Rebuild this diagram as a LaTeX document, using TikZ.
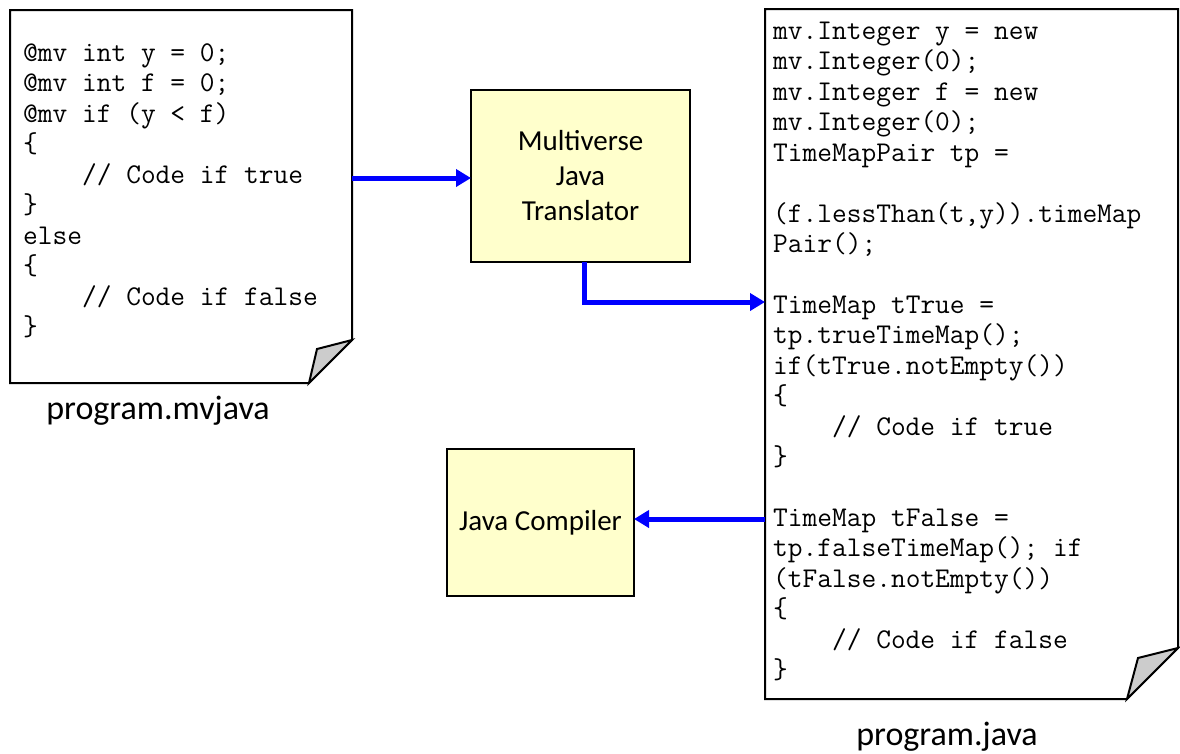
\documentclass[tikz,border=0pt]{standalone}
\usepackage{fontspec}
\setmainfont{Carlito}
\usetikzlibrary{arrows.meta}
\definecolor{boxyellow}{HTML}{FFFFCC}
\definecolor{flapgray}{HTML}{CCCCCC}
\definecolor{flowblue}{HTML}{0000FF}
\begin{document}
\begin{tikzpicture}[x=1pt,y=-1pt,
  doc/.style={draw=black,line width=2pt,fill=white,line join=miter},
  flap/.style={draw=black,line width=2pt,fill=flapgray,line join=miter},
  procbox/.style={draw=black,line width=2pt,fill=boxyellow,inner sep=0pt,outer sep=0pt,
    align=center,font=\fontsize{29}{35}\selectfont},
  code/.style={anchor=base west,inner sep=0pt,font=\ttfamily\fontsize{28.6}{30}\selectfont},
  filelabel/.style={anchor=base,inner sep=0pt,font=\fontsize{34}{40}\selectfont},
  flow/.style={draw=flowblue,line width=5pt,line join=miter,-{Triangle[length=15pt,width=17pt]}}]
\useasboundingbox (0,0) rectangle (1180,753);

% left document
\draw[doc] (10,10) -- (352,10) -- (352,340) -- (309,383) -- (10,383) -- cycle;
\draw[flap] (352,340) -- (317,349) -- (309,383) -- cycle;
\node[code] (L1) at (23,61) {@mv int y = 0;};
\node[code] (L2) at (23,91.5) {@mv int f = 0;};
\node[code] (L3) at (23,122) {@mv if (y < f)};
\node[code] (L4) at (23,152.5) {\{};
\node[code] (L5) at (23,183) {\phantom{0000}// Code if true};
\node[code] (L6) at (23,213.5) {\}};
\node[code] (L7) at (23,244) {else};
\node[code] (L8) at (23,274.5) {\{};
\node[code] (L9) at (23,305) {\phantom{0000}// Code if false};
\node[code] (L10) at (23,335.5) {\}};
\node[filelabel] (lname) at (158,419) {program.mvjava};

% right document
\draw[doc] (765,9) -- (1178,9) -- (1178,648) -- (1127,699) -- (765,699) -- cycle;
\draw[flap] (1178,648) -- (1138,658) -- (1127,699) -- cycle;
\node[code] (R1) at (773,39.5) {mv.Integer y = new};
\node[code] (R2) at (773,69.9) {mv.Integer(0);};
\node[code] (R3) at (773,100.4) {mv.Integer f = new};
\node[code] (R4) at (773,130.8) {mv.Integer(0);};
\node[code] (R5) at (773,161.2) {TimeMapPair tp =};
\node[code] (R7) at (773,222.1) {(f.lessThan(t,y)).timeMap};
\node[code] (R8) at (773,252.5) {Pair();};
\node[code] (R10) at (773,313.4) {TimeMap tTrue =};
\node[code] (R11) at (773,343.8) {tp.trueTimeMap();};
\node[code] (R12) at (773,374.2) {if(tTrue.notEmpty())};
\node[code] (R13) at (773,404.7) {\{};
\node[code] (R14) at (773,435.1) {\phantom{0000}// Code if true};
\node[code] (R15) at (773,465.5) {\}};
\node[code] (R17) at (773,526.4) {TimeMap tFalse =};
\node[code] (R18) at (773,556.8) {tp.falseTimeMap(); if};
\node[code] (R19) at (773,587.3) {(tFalse.notEmpty())};
\node[code] (R20) at (773,617.7) {\{};
\node[code] (R21) at (773,648.1) {\phantom{0000}// Code if false};
\node[code] (R22) at (773,678.5) {\}};
\node[filelabel] (rname) at (947,745) {program.java};

% processing boxes
\node[procbox,minimum width=219pt,minimum height=172pt] (trans) at (580.5,176) {Multiverse\\Java\\Translator};
\node[procbox,minimum width=187pt,minimum height=147pt] (comp) at (540.5,522.5) {Java Compiler};

% connector end points on the documents
\coordinate (ldocE) at (352,178);
\coordinate (rdocIn) at (765,302);
\coordinate (rdocOut) at (765,519);
\coordinate (transOut) at (584,262);

% connectors
\draw[flow] (ldocE) -- (ldocE -| trans.west);
\draw[flow] (transOut) |- (rdocIn);
\draw[flow] (rdocOut) -- (rdocOut -| comp.east);
\end{tikzpicture}
\end{document}
